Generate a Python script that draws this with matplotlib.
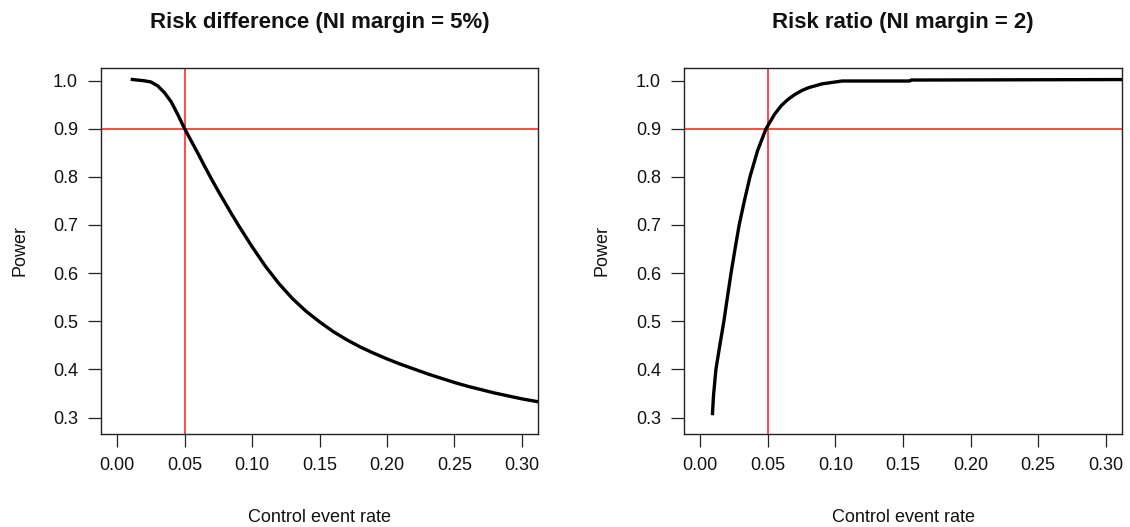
import matplotlib
matplotlib.use("Agg")
import matplotlib.pyplot as plt

plt.rcParams['font.family'] = ['Liberation Sans', 'DejaVu Sans']

# Risk difference panel
rd_rate = [0.01, 0.015, 0.02, 0.025, 0.03, 0.035, 0.04, 0.045, 0.05, 0.055,
           0.06, 0.065, 0.07, 0.075, 0.08, 0.085, 0.09, 0.095, 0.10, 0.11,
           0.12, 0.13, 0.14, 0.15, 0.16, 0.17, 0.18, 0.19, 0.20, 0.21, 0.22,
           0.23, 0.24, 0.25, 0.26, 0.27, 0.28, 0.29, 0.30, 0.312]
rd_power = [1.0025, 1.001, 0.9995, 0.997, 0.989, 0.975, 0.956, 0.929, 0.900,
            0.874, 0.848, 0.821, 0.795, 0.770, 0.746, 0.722, 0.699, 0.677,
            0.655, 0.614, 0.578, 0.547, 0.521, 0.499, 0.479, 0.462, 0.447,
            0.434, 0.422, 0.411, 0.401, 0.391, 0.382, 0.373, 0.365, 0.358,
            0.351, 0.345, 0.339, 0.333]

# Risk ratio panel
rr_rate = [0.009, 0.0098, 0.0116, 0.0146, 0.0175, 0.02, 0.0228, 0.0258,
           0.0288, 0.0328, 0.0368, 0.0425, 0.0487, 0.055, 0.06, 0.065, 0.07,
           0.075, 0.08, 0.09, 0.10, 0.105, 0.155, 0.156, 0.312]
rr_power = [0.305, 0.345, 0.40, 0.452, 0.50, 0.548, 0.60, 0.651, 0.70, 0.752,
            0.80, 0.855, 0.90, 0.930, 0.948, 0.961, 0.971, 0.979, 0.985,
            0.993, 0.997, 0.999, 0.999, 1.001, 1.002]

titles = ["Risk difference (NI margin = 5%)", "Risk ratio (NI margin = 2)"]
x_ticks = [0.00, 0.05, 0.10, 0.15, 0.20, 0.25, 0.30]
x_ticklabels = ["0.00", "0.05", "0.10", "0.15", "0.20", "0.25", "0.30"]
y_ticks = [0.3, 0.4, 0.5, 0.6, 0.7, 0.8, 0.9, 1.0]
y_ticklabels = ["0.3", "0.4", "0.5", "0.6", "0.7", "0.8", "0.9", "1.0"]
ref_rate = 0.05
ref_power = 0.9

W, H = 1130, 527
fig = plt.figure(figsize=(W / 100, H / 100), dpi=100)

boxes = [(101, 538), (684, 1122)]
top_px, bot_px = 68, 434
series = [(rd_rate, rd_power), (rr_rate, rr_power)]
ylab_x = [20, 602]

for i, ((l, r), (xs, ys), title) in enumerate(zip(boxes, series, titles)):
    ax = fig.add_axes([l / W, 1 - bot_px / H, (r - l) / W, (bot_px - top_px) / H])
    ax.plot(xs, ys, color='black', lw=2.4, solid_joinstyle='round',
            solid_capstyle='butt', zorder=3)
    ax.axhline(ref_power, color='#ff1a1a', lw=1.1, zorder=2)
    ax.axvline(ref_rate, color='#ff1a1a', lw=1.1, zorder=2)
    ax.set_xlim(-0.012, 0.312)
    ax.set_ylim(0.266, 1.026)
    ax.set_xticks(x_ticks)
    ax.set_xticklabels(x_ticklabels)
    ax.set_yticks(y_ticks)
    ax.set_yticklabels(y_ticklabels)
    ax.tick_params(direction='out', length=9.5, width=0.9, color='#222222',
                   labelsize=13, pad=7, labelcolor='#111111')
    for s in ax.spines.values():
        s.set_color('#222222')
        s.set_linewidth(1.0)
    ax.set_xlabel("Control event rate", fontsize=13, color='#111111')
    ax.set_ylabel("Power", fontsize=13, color='#111111')
    hpx = bot_px - top_px
    wpx = r - l
    ax.xaxis.set_label_coords(0.5, (bot_px - 517) / hpx)
    ax.xaxis.label.set_va('center')
    ax.yaxis.set_label_coords((ylab_x[i] - l) / wpx, 0.5)
    ax.yaxis.label.set_va('center')
    ax.set_title(title, fontsize=16, fontweight='bold', y=(bot_px - 22) / hpx,
                 pad=0, va='center', color='#111111')

fig.savefig("out.png", dpi=100)
